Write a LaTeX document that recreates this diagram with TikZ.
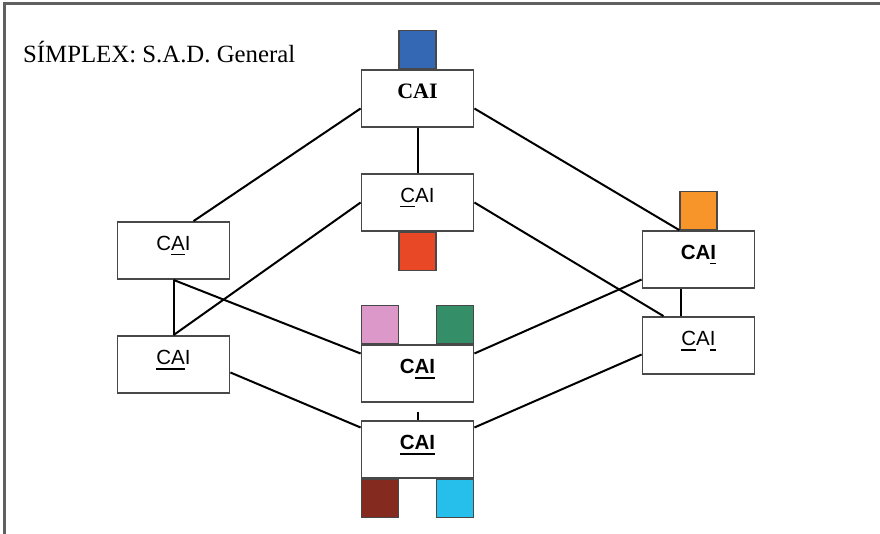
\documentclass[tikz,border=0pt]{standalone}
\usepackage{fontspec}
\setmainfont{Liberation Serif}
\newfontfamily\arialfont{Liberation Sans}
\usetikzlibrary{positioning}

\definecolor{boxgray}{RGB}{72,72,72}
\definecolor{framegray}{RGB}{96,96,96}
\definecolor{sqblue}{RGB}{52,104,180}
\definecolor{sqred}{RGB}{232,72,38}
\definecolor{sqorange}{RGB}{247,148,42}
\definecolor{sqpink}{RGB}{220,152,200}
\definecolor{sqgreen}{RGB}{52,142,104}
\definecolor{sqbrown}{RGB}{132,42,30}
\definecolor{sqcyan}{RGB}{38,190,234}

\newcommand\lined[1]{\setbox0\hbox{#1}\rlap{\rule[-5pt]{\wd0}{1.8pt}}\box0}

\tikzset{
  box/.style={draw=boxgray, line width=1.8pt, fill=white, minimum width=112pt,
    minimum height=57pt, inner sep=0pt, text height=15pt, text depth=15pt,
    font=\arialfont\fontsize{20.5}{20.5}\selectfont},
  boxb/.style={box, font=\arialfont\bfseries\fontsize{20.5}{20.5}\selectfont},
  sq/.style={draw=boxgray, line width=1.4pt, minimum width=37pt, minimum height=38pt, inner sep=0pt},
  link/.style={line width=2pt},
}

\begin{document}
\begin{tikzpicture}[x=1pt, y=-1pt]
  \useasboundingbox (0,0) rectangle (880,534);
  \draw[framegray, line width=3pt] (4.5,534) -- (4.5,3.5) -- (880,3.5);

  \node[anchor=base west, inner sep=0pt, font=\fontsize{24.8}{24.8}\selectfont] (title) at (23,63) {SÍMPLEX: S.A.D. General};

  \node[box, font=\bfseries\fontsize{22}{22}\selectfont] (cai) at (417.5,98.5) {CAI};
  \node[box] (c)    at (417.5,202.5) {\lined{C}AI};
  \node[box] (a)    at (173.5,250.5) {C\lined{A}I};
  \node[boxb] (i)   at (698.5,259.5) {CA\lined{I}};
  \node[box] (ca)   at (173.5,364.5) {\lined{CA}I};
  \node[boxb] (ai)  at (417.5,373.5) {C\lined{AI}};
  \node[box] (ci)   at (698.5,345.5) {\lined{C}A\lined{I}};
  \node[boxb] (all) at (417.5,449.5) {\lined{CAI}};

  \node[sq, fill=sqblue, above=0pt of cai] (blue) {};
  \node[sq, fill=sqred, below=0pt of c] (red) {};
  \node[sq, fill=sqorange, above=0pt of i] (orange) {};
  \node[sq, fill=sqpink, above right=0pt and 0pt of ai.north west] (pink) {};
  \node[sq, fill=sqgreen, above left=0pt and 0pt of ai.north east] (green) {};
  \node[sq, fill=sqbrown, below right=0pt and 0pt of all.south west] (brown) {};
  \node[sq, fill=sqcyan, below left=0pt and 0pt of all.south east] (cyan) {};

  \coordinate (tick) at (417.5,412);

  \draw[link] ([yshift=-10pt]cai.west) -- ([xshift=20pt]a.north);
  \draw[link] ([yshift=-10pt]cai.east) -- (orange.south west);
  \draw[link] (cai.south) -- (c.north);
  \draw[link] (c.west) -- (ca.north);
  \draw[link] (c.east) -- ([xshift=-35pt]ci.north);
  \draw[link] (a.south) -- (ca.north);
  \draw[link] (a.south) -- ([yshift=20pt]ai.west);
  \draw[link] ([yshift=-8pt]ca.east) -- ([yshift=22pt]all.west);
  \draw[link] ([yshift=20pt]ai.east) -- ([yshift=-20pt]i.west);
  \draw[link] ([yshift=22pt]all.east) -- ([yshift=-9pt]ci.west);
  \draw[link] ([xshift=-18pt]i.south) -- ([xshift=-18pt]ci.north);
  \draw[link] (all.north) -- (tick);
\end{tikzpicture}
\end{document}
